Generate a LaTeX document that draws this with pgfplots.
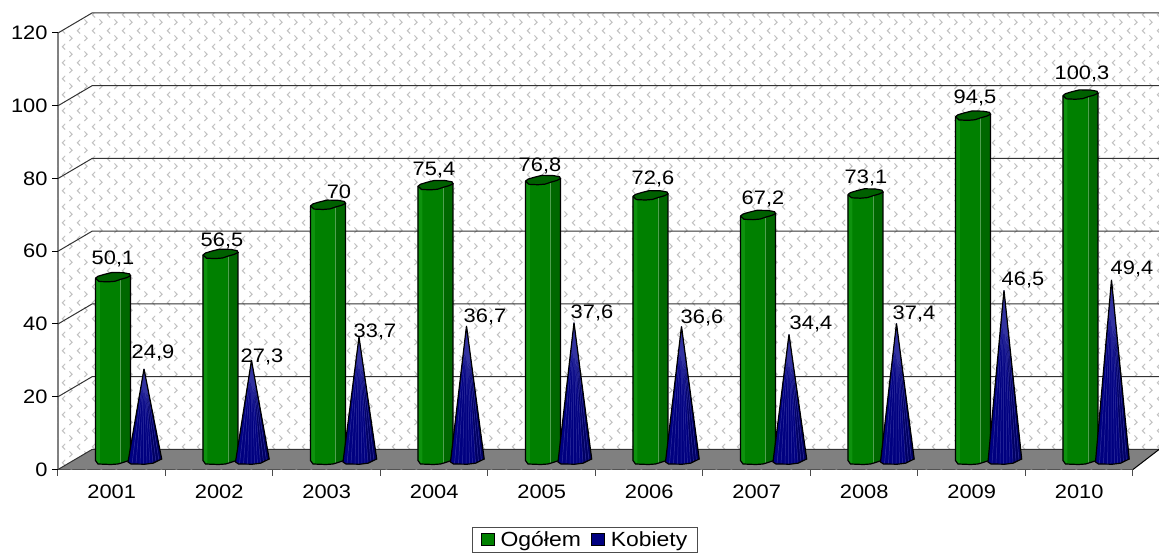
\documentclass[border=0pt]{standalone}
\usepackage{fontspec}
\setmainfont[FakeStretch=1.12]{Liberation Sans}
\usepackage{pgfplots}
\usepackage{pgfplotstable}
\pgfplotsset{compat=1.18}
\usetikzlibrary{patterns}
\definecolor{colG}{RGB}{0,128,0}
\definecolor{colGl}{RGB}{14,146,14}
\definecolor{colGd}{RGB}{0,104,0}
\definecolor{colGc}{RGB}{0,96,0}
\definecolor{colGline}{RGB}{80,160,80}
\definecolor{colB}{RGB}{0,0,128}
\definecolor{colBd}{RGB}{0,0,100}
\definecolor{colBl}{RGB}{50,50,160}
\definecolor{floorc}{RGB}{128,128,128}
\pgfdeclarepatternformonly{chev}{\pgfpointorigin}{\pgfpoint{15pt}{16pt}}{\pgfpoint{15pt}{16pt}}{
  \pgfsetlinewidth{1.1pt}
  \pgfpathmoveto{\pgfpoint{5.5pt}{15pt}}\pgfpathlineto{\pgfpoint{2.5pt}{12pt}}\pgfpathlineto{\pgfpoint{5.5pt}{9pt}}
  \pgfpathmoveto{\pgfpoint{10pt}{7pt}}\pgfpathlineto{\pgfpoint{13pt}{4pt}}\pgfpathlineto{\pgfpoint{10pt}{1pt}}
  \pgfusepath{stroke}
}
% unit shapes, pixel offsets from the centre of the base; t=1 rows rise with the value
\pgfplotstableread{
dx dy t
-17.5 -1 1
-17.5 -1 0
-15 -4.5 0
-2 -5 0
5 -4.5 0
10 -3 0
17.5 -0.5 0
17.5 1.5 1
-17.5 -1 1
}\cylbody
\pgfplotstableread{
dx dy t
7.5 -3.5 0
10 -3 0
17.5 -0.5 0
17.5 1.5 1
7.5 0 1
7.5 -3.5 0
}\cylright
\pgfplotstableread{
dx dy t
-17.5 -1 1
-17.5 -1 0
-15 -4.5 0
-13 -4.7 0
-13 -1 1
-17.5 -1 1
}\cylleft
\pgfplotstableread{
dx dy t
7.5 -3.5 0
7.5 0 1
}\cylline
\pgfplotstableread{
dx dy t
-17.5 -1 1
-15 1 1
-9 2.8 1
-1 4.8 1
10 4.6 1
16.5 3.4 1
17.5 1.5 1
14 -0.3 1
8 -2 1
2 -4 1
-5 -4.6 1
-14 -4.2 1
-17.5 -1 1
}\cylcap
\pgfplotstableread{
dx dy t
-1 0 1
-17 -2.5 0
-14 -4.5 0
0 -4.7 0
8 -3.7 0
16.7 0.5 0
-1 0 1
}\cone
\pgfplotstableread{
dx dy t
-1 0 1
8 -3.7 0
16.7 0.5 0
-1 0 1
}\coneright
\pgfplotstableread{
dx dy t
-1 0 1
-13 -4.5 0
-1 0 1
-9 -4.6 0
-1 0 1
-5 -4.7 0
-1 0 1
-1.5 -4.7 0
-1 0 1
2 -4.5 0
-1 0 1
5 -4.2 0
-1 0 1
8 -3.7 0
-1 0 1
11 -2.5 0
-1 0 1
14 -1 0
}\conefan
% walls and floor, image pixels
\pgfplotstableread{
px py
58 469.5
58 33
92 13
1159 13
1159 449.5
1133 469.5
58 469.5
}\wall
\pgfplotstableread{
px py
58 469.5
92 449.5
1159 449.5
1133 469.5
58 469.5
}\floor
\pgfplotstableread{
px py
58 469.5
92 449.5
1159 449.5
}\gridl
\pgfplotstableread{
px py
1133 469.5
1159 449.5
}\rightedge

\newcommand{\yunit}{3.6375}
\newcommand{\shape}[5]{% options, table, category, value, x offset
  \addplot[forget plot,#1] table[x expr={#3+(\thisrow{dx}+#5)/107.5},
     y expr={\thisrow{t}*#4+(\thisrow{dy}+10)/\yunit}] {#2};}
\newcommand{\lab}[3]{\node[inner sep=0pt,anchor=center] at
  (axis cs:{(#1-111.75)/107.5},{(468-#2)/\yunit}) {\tsize #3};}
\newcommand{\group}[3]{% category, ogółem, kobiety
  \shape{fill=colG,draw=none}{\cylbody}{#1}{#2}{1.25}
  \shape{fill=colGl,draw=none}{\cylleft}{#1}{#2}{1.25}
  \shape{fill=colGd,draw=none}{\cylright}{#1}{#2}{1.25}
  \shape{draw=colGline,line width=0.7pt}{\cylline}{#1}{#2}{1.25}
  \shape{draw=black,line width=1.2pt}{\cylbody}{#1}{#2}{1.25}
  \shape{fill=colGc,draw=black,line width=1.2pt}{\cylcap}{#1}{#2}{1.25}
  \shape{fill=colB,draw=none}{\cone}{#1}{#3}{33.25}
  \shape{fill=colBd,draw=none}{\coneright}{#1}{#3}{33.25}
  \shape{draw=colBl,line width=0.5pt}{\conefan}{#1}{#3}{33.25}
  \shape{draw=black,line width=1.2pt}{\cone}{#1}{#3}{33.25}
}
\newcommand{\tsize}{\fontsize{19.5}{22}\selectfont}
\begin{document}
\begin{tikzpicture}
\useasboundingbox (0,0) rectangle (1159pt,554pt);
\begin{axis}[
  at={(58pt,84.5pt)},anchor=south west,
  scale only axis,width=1075pt,height=436.5pt,
  xmin=-0.5,xmax=9.5,ymin=0,ymax=120,
  clip=false,
  axis x line*=bottom,axis y line*=left,
  y axis line style={draw=floorc,line width=1.5pt,-},
  x axis line style={draw=black,line width=1pt,-},
  xtick={0,...,9},
  xticklabels={2001,2002,2003,2004,2005,2006,2007,2008,2009,2010},
  minor xtick={-0.5,0.5,...,9.5},
  ytick={0,20,...,120},
  /pgf/number format/assume math mode=true,
  tick label style={font=\tsize,text=black},
  major tick length=0pt,
  minor tick length=6pt,
  xtick style={draw=none},
  minor x tick style={draw=black!70,line width=1pt},
  y tick style={draw=none},
  tick align=outside,
  xticklabel style={yshift=-12pt},
  yticklabel style={xshift=-7pt},
  legend style={at={(0.4903,-0.1913)},anchor=south,draw=black!70,line width=0.8pt,
    font=\fontsize{20.5}{22}\selectfont,legend columns=2,inner ysep=2.5pt,inner xsep=8.5pt,
    /tikz/every odd column/.style={column sep=4pt},
    /tikz/every even column/.style={column sep=8pt}},
  legend cell align=left,
  legend image code/.code={\draw[#1,line width=0.8pt] (-2pt,-5.5pt) rectangle (11pt,6.5pt);},
]
\addlegendimage{fill=colG,draw=black}\addlegendentry{Ogółem}
\addlegendimage{fill=colB,draw=black}\addlegendentry{Kobiety}
% wall, floor, grid
\addplot[forget plot,pattern=chev,pattern color=black!24,draw=none] table[x expr={(\thisrow{px}-111.75)/107.5},y expr={(469.5-\thisrow{py})/\yunit}] {\wall};
\addplot[forget plot,fill=floorc,draw=none] table[x expr={(\thisrow{px}-111.75)/107.5},y expr={(469.5-\thisrow{py})/\yunit}] {\floor};
\pgfplotsinvokeforeach{0,20,40,60,80,100,120}{
  \addplot[forget plot,draw=black!80,line width=1pt] table[x expr={(\thisrow{px}-111.75)/107.5},y expr={#1+(469.5-\thisrow{py})/\yunit}] {\gridl};
}
\addplot[forget plot,draw=black,line width=1pt] table[x expr={(\thisrow{px}-111.75)/107.5},y expr={(469.5-\thisrow{py})/\yunit}] {\rightedge};
% y ticks
\pgfplotsinvokeforeach{0,20,40,60,80,100,120}{
  \addplot[forget plot,draw=black,line width=1pt] coordinates {(-0.5,#1) (-0.5565,#1)};
}
\group{0}{50.1}{24.9}
\group{1}{56.5}{27.3}
\group{2}{70}{33.7}
\group{3}{75.4}{36.7}
\group{4}{76.8}{37.6}
\group{5}{72.6}{36.6}
\group{6}{67.2}{34.4}
\group{7}{73.1}{37.4}
\group{8}{94.5}{46.5}
\group{9}{100.3}{49.4}
\lab{113}{257}{50,1}\lab{222}{239}{56,5}\lab{339}{190}{70}\lab{434}{169}{75,4}\lab{540}{164}{76,8}
\lab{653}{177}{72,6}\lab{763}{197}{67,2}\lab{866}{176}{73,1}\lab{975}{96}{94,5}\lab{1082}{72}{100,3}
\lab{153}{351}{24,9}\lab{262}{355}{27,3}\lab{375}{330}{33,7}\lab{485}{315}{36,7}\lab{592}{311}{37,6}
\lab{702}{316}{36,6}\lab{811}{322}{34,4}\lab{914}{312}{37,4}\lab{1023}{278}{46,5}\lab{1132}{267}{49,4}
\end{axis}
\end{tikzpicture}
\end{document}
